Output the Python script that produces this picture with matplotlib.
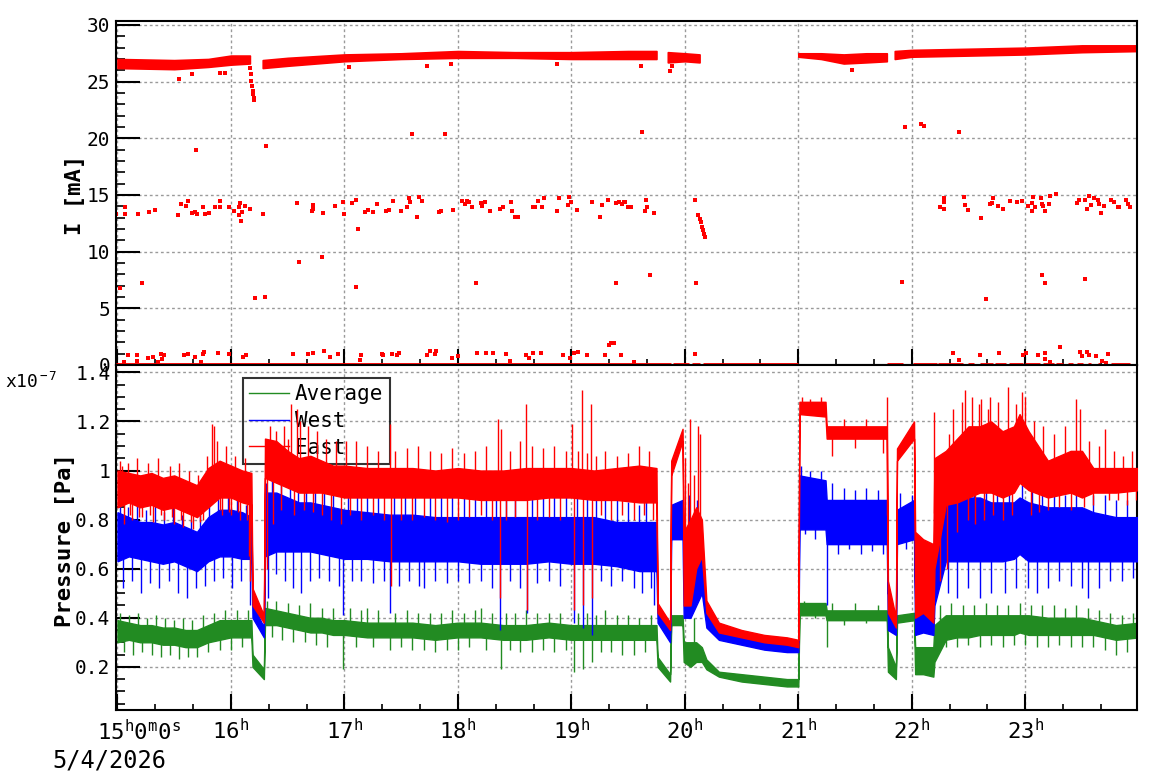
import numpy as np
import matplotlib
matplotlib.use("Agg")
import matplotlib.pyplot as plt
from matplotlib.ticker import MultipleLocator, FixedLocator

plt.rcParams['font.family'] = ['DejaVu Sans Mono']
plt.rcParams['mathtext.fontset'] = 'custom'
plt.rcParams['mathtext.rm'] = 'DejaVu Sans Mono'
plt.rcParams['mathtext.it'] = 'DejaVu Sans Mono'
plt.rcParams['mathtext.bf'] = 'DejaVu Sans Mono:bold'

# ---------------- beam current (mA), time in hours ----------------
# main stored-current band, NaN = no data
band_t = [15.0, 15.5, 15.8, 16.0, 16.167, np.nan,
          16.28, 16.5, 17.0, 17.5, 18.0, 18.5, 19.0, 19.5, 19.75, np.nan,
          19.85, 20.0, 20.13, np.nan,
          21.0, 21.2, 21.4, 21.6, 21.78, np.nan,
          21.85, 22.0, 22.5, 23.0, 23.5, 24.0]
band_lo = [26.2, 26.1, 26.3, 26.5, 26.6, np.nan,
           26.2, 26.4, 26.8, 27.0, 27.1, 27.1, 27.0, 27.0, 27.0, np.nan,
           26.7, 26.8, 26.7, np.nan,
           27.2, 27.0, 26.6, 26.7, 26.8, np.nan,
           27.0, 27.2, 27.3, 27.4, 27.6, 27.7]
band_hi = [27.0, 26.9, 27.0, 27.3, 27.3, np.nan,
           26.9, 27.1, 27.4, 27.5, 27.7, 27.6, 27.6, 27.7, 27.7, np.nan,
           27.6, 27.5, 27.4, np.nan,
           27.5, 27.5, 27.4, 27.5, 27.5, np.nan,
           27.7, 27.8, 27.9, 28.0, 28.2, 28.2]

# intervals where the current reads zero
zero_start = [14.99, 19.90, 20.06, 20.16, 21.78, 22.01, 22.23, 22.50, 22.60, 22.73, 22.86,
              23.00, 23.16, 23.27, 23.38, 23.46, 23.55, 23.64, 23.76]
zero_end = [19.88, 20.04, 20.13, 21.00, 21.92, 22.22, 22.45, 22.55, 22.72, 22.83, 22.98,
            23.13, 23.25, 23.33, 23.42, 23.51, 23.58, 23.66, 23.92]

# isolated readings
cur_t = [16.170, 16.175, 16.180, 16.185, 16.190, 16.195, 16.200, 16.205,
         20.12, 20.13, 20.14, 20.15, 20.16, 20.17, 20.18,
         14.99, 15.07, 15.07, 15.18, 15.28, 15.33, 15.53, 15.56, 15.60, 15.62, 15.66, 15.68, 15.70,
         15.75, 15.77, 15.81, 15.86, 15.90, 15.90, 15.98, 16.03, 16.07, 16.07, 16.08, 16.09, 16.10,
         16.12, 16.17, 16.28, 16.58, 16.72, 16.72, 16.71, 16.81, 16.92, 16.99, 17.00, 17.07, 17.10,
         17.12, 17.18, 17.21, 17.25, 17.29, 17.37, 17.39, 17.43, 17.50, 17.55, 17.57, 17.58, 17.64,
         17.66, 17.68, 17.83, 17.85, 17.96, 18.04, 18.06, 18.08, 18.10, 18.12, 18.20, 18.21, 18.24,
         18.28, 18.37, 18.40, 18.47, 18.48, 18.50, 18.53, 18.66, 18.68, 18.71, 18.74, 18.76, 18.87,
         18.89, 18.97, 18.98, 19.00, 19.05, 19.18, 19.25, 19.27, 19.32, 19.39, 19.42, 19.45, 19.50,
         19.46, 19.47, 19.51, 19.53, 19.66, 19.67, 19.65, 19.73, 20.09,
         22.25, 22.28, 22.28, 22.28, 22.46, 22.47, 22.50, 22.61, 22.69, 22.71, 22.72, 22.76, 22.80,
         22.87, 22.93, 22.97, 23.02, 23.06, 23.07, 23.09, 23.06, 23.14, 23.15, 23.16, 23.17, 23.21,
         23.22, 23.27, 23.46, 23.47, 23.53, 23.54, 23.56, 23.58, 23.61, 23.64, 23.65, 23.67, 23.69,
         23.76, 23.78, 23.82, 23.83, 23.89, 23.91, 23.92,
         15.54, 15.66, 15.69, 16.31, 17.60, 17.89, 17.73, 17.04, 17.94, 18.87, 15.22, 15.02, 16.21,
         16.30, 16.60, 16.80, 17.10, 18.16, 19.39, 15.90, 15.95, 19.61, 19.87, 19.89, 21.47, 19.62,
         21.94, 22.08, 22.11, 22.42, 19.69, 20.10, 21.91, 22.65, 23.15, 23.17, 23.53,
         15.09, 15.17, 15.27, 15.31, 15.38, 15.41, 15.59, 15.62, 15.68, 15.75, 15.76, 15.89, 15.98,
         16.11, 16.13, 16.55, 16.68, 16.72, 16.82, 16.87, 16.94, 17.15, 17.33, 17.34, 17.42, 17.46,
         17.48, 17.73, 17.75, 17.80, 17.81, 17.95, 18.00, 18.17, 18.25, 18.31, 18.42, 18.46, 18.60,
         18.63, 18.66, 18.73, 18.93, 18.99, 19.02, 19.06, 19.14, 19.30, 19.33, 19.35, 19.38, 19.44,
         15.06, 15.17, 15.36, 15.39, 15.74, 17.14, 19.55, 20.09, 22.36, 22.42, 22.60, 22.77, 22.98,
         23.01, 23.11, 23.17, 23.17, 23.22, 23.31, 23.48, 23.50, 23.54, 23.56, 23.62, 23.68, 23.71,
         23.73]
cur_v = [26.2, 25.7, 25.1, 24.6, 24.2, 23.9, 23.6, 23.4,
         13.2, 12.9, 12.6, 12.2, 11.9, 11.6, 11.3,
         13.3, 13.9, 13.3, 13.3, 13.5, 13.7, 13.2, 14.2, 14.0, 14.5, 13.4, 13.5, 13.3,
         13.9, 13.3, 13.4, 13.9, 14.5, 13.9, 13.9, 13.6, 13.9, 13.2, 14.3, 12.7, 13.5,
         14.0, 13.8, 13.3, 14.3, 14.1, 13.8, 13.6, 13.4, 14.0, 14.4, 13.3, 14.3, 14.6,
         12.0, 13.5, 13.7, 13.5, 14.2, 13.6, 13.7, 14.5, 13.6, 13.9, 14.7, 14.4, 13.1,
         14.8, 14.5, 13.5, 13.6, 13.7, 14.5, 14.2, 14.5, 14.4, 13.9, 14.3, 14.0, 14.4,
         13.6, 13.8, 13.9, 14.4, 13.6, 13.1, 13.1, 13.9, 13.9, 14.5, 13.9, 14.7, 13.6,
         14.7, 14.1, 14.8, 14.4, 13.7, 14.4, 13.1, 14.1, 14.6, 14.3, 14.4, 14.2, 13.9,
         14.4, 14.4, 13.9, 13.9, 14.6, 13.9, 13.6, 13.4, 14.6,
         13.9, 14.7, 14.4, 13.8, 14.8, 14.1, 13.7, 13.0, 14.2, 14.3, 14.7, 14.0, 13.8,
         14.5, 14.4, 14.5, 14.0, 14.3, 14.8, 13.9, 13.6, 14.7, 14.2, 14.0, 13.6, 14.2,
         14.9, 15.1, 14.3, 14.6, 14.6, 13.8, 14.9, 14.1, 14.7, 14.6, 14.2, 13.4, 14.0,
         14.6, 14.4, 13.9, 13.9, 14.6, 14.2, 13.9,
         25.2, 25.7, 19.0, 19.3, 20.4, 20.4, 26.4, 26.3, 26.6, 26.6, 7.2, 6.8, 5.9,
         6.0, 9.1, 9.5, 6.9, 7.2, 7.2, 25.8, 25.8, 26.4, 25.9, 26.4, 26.0, 20.6,
         21.0, 21.3, 21.1, 20.6, 7.9, 7.2, 7.3, 5.8, 7.9, 7.2, 7.6,
         0.85, 0.91, 0.59, 0.67, 1.00, 0.91, 0.91, 1.00, 0.73, 1.00, 1.17, 1.09, 1.00,
         0.67, 0.91, 1.00, 1.00, 1.09, 1.26, 0.67, 1.00, 0.91, 1.00, 0.85, 1.00, 0.91,
         1.09, 0.91, 1.26, 1.00, 1.26, 0.59, 0.76, 1.09, 1.09, 1.09, 1.00, 0.38, 0.91,
         0.59, 1.09, 1.09, 0.91, 0.59, 1.09, 1.17, 0.85, 0.91, 1.73, 1.91, 1.91, 0.85,
         0.23, 0.32, 0.23, 0.50, 0.23, 0.41, 0.23, 0.94, 1.09, 0.41, 0.91, 1.09, 0.85,
         1.09, 0.85, 1.09, 0.50, 0.23, 1.61, 1.17, 0.76, 1.17, 0.85, 0.76, 0.32, 0.15,
         0.94]

# ---------------- pressure (x1e-7 Pa) ----------------
p_t = [15.0, 15.1, 15.2, 15.3, 15.4, 15.5, 15.6, 15.7, 15.8, 15.9, 16.0, 16.1, 16.18,
       16.19, 16.29, 16.3, 16.4, 16.5, 16.6, 16.7, 16.8, 16.9, 17.0,
       17.2, 17.4, 17.6, 17.8, 18.0, 18.2, 18.4, 18.6, 18.8, 19.0, 19.2, 19.4, 19.6, 19.75,
       19.76, 19.87, 19.88, 19.98, 19.99, 20.05, 20.1, 20.15, 20.19, 20.3, 20.5, 20.7, 20.9, 21.0,
       21.01, 21.24, 21.25, 21.5, 21.78, 21.79, 21.86, 21.87, 22.02,
       22.03, 22.1, 22.19, 22.2, 22.3, 22.4, 22.5, 22.6, 22.7, 22.8, 22.9, 22.95, 23.03, 23.2,
       23.4, 23.5, 23.6, 23.8, 24.0]
east_lo = [0.85, 0.87, 0.85, 0.86, 0.84, 0.85, 0.83, 0.81, 0.85, 0.89, 0.89, 0.87, 0.86,
           0.45, 0.38, 0.97, 0.95, 0.93, 0.91, 0.91, 0.91, 0.90, 0.89,
           0.89, 0.89, 0.89, 0.89, 0.89, 0.88, 0.88, 0.88, 0.89, 0.89, 0.88, 0.88, 0.87, 0.87,
           0.42, 0.35, 0.98, 1.12, 0.45, 0.45, 0.60, 0.65, 0.42, 0.34, 0.32, 0.30, 0.29, 0.28,
           1.23, 1.22, 1.13, 1.13, 1.13, 0.42, 0.36, 1.04, 1.13,
           0.40, 0.42, 0.38, 0.60, 0.86, 0.87, 0.89, 0.91, 0.91, 0.89, 0.91, 0.95, 0.92, 0.89,
           0.91, 0.89, 0.91, 0.91, 0.92]
east_hi = [1.00, 0.99, 0.98, 0.99, 0.97, 0.98, 0.96, 0.94, 1.01, 1.04, 1.02, 1.00, 0.99,
           0.52, 0.41, 1.13, 1.12, 1.08, 1.05, 1.06, 1.04, 1.02, 1.02,
           1.01, 1.01, 1.01, 1.00, 1.01, 1.00, 1.00, 1.01, 1.01, 1.01, 1.00, 1.01, 1.02, 1.01,
           0.46, 0.38, 1.04, 1.17, 0.75, 0.80, 0.85, 0.80, 0.47, 0.38, 0.35, 0.33, 0.32, 0.31,
           1.28, 1.28, 1.18, 1.18, 1.18, 0.55, 0.40, 1.09, 1.20,
           0.75, 0.72, 0.70, 1.05, 1.08, 1.13, 1.18, 1.18, 1.20, 1.16, 1.18, 1.23, 1.16, 1.04,
           1.08, 1.08, 1.01, 1.01, 1.01]
west_lo = [0.63, 0.65, 0.64, 0.63, 0.62, 0.63, 0.61, 0.59, 0.63, 0.65, 0.65, 0.64, 0.64,
           0.40, 0.32, 0.65, 0.67, 0.67, 0.67, 0.67, 0.66, 0.65, 0.64,
           0.64, 0.63, 0.63, 0.63, 0.63, 0.62, 0.62, 0.62, 0.63, 0.62, 0.62, 0.61, 0.59, 0.59,
           0.38, 0.30, 0.72, 0.72, 0.40, 0.40, 0.45, 0.50, 0.36, 0.31, 0.29, 0.27, 0.26, 0.26,
           0.76, 0.76, 0.70, 0.70, 0.70, 0.35, 0.33, 0.70, 0.72,
           0.33, 0.34, 0.33, 0.45, 0.63, 0.63, 0.63, 0.63, 0.63, 0.63, 0.64, 0.66, 0.63, 0.63,
           0.63, 0.63, 0.63, 0.63, 0.63]
west_hi = [0.83, 0.81, 0.79, 0.79, 0.78, 0.79, 0.77, 0.75, 0.81, 0.84, 0.84, 0.83, 0.81,
           0.46, 0.36, 0.91, 0.91, 0.89, 0.87, 0.87, 0.86, 0.85, 0.84,
           0.83, 0.82, 0.82, 0.81, 0.81, 0.81, 0.81, 0.81, 0.81, 0.81, 0.81, 0.79, 0.79, 0.79,
           0.44, 0.34, 0.86, 0.88, 0.70, 0.75, 0.80, 0.65, 0.42, 0.36, 0.33, 0.31, 0.30, 0.30,
           0.98, 0.96, 0.88, 0.88, 0.88, 0.50, 0.38, 0.84, 0.88,
           0.48, 0.46, 0.46, 0.85, 0.87, 0.89, 0.89, 0.89, 0.87, 0.87, 0.87, 0.89, 0.87, 0.85,
           0.85, 0.85, 0.83, 0.81, 0.81]
avg_lo = [0.30, 0.31, 0.30, 0.30, 0.29, 0.29, 0.28, 0.28, 0.30, 0.31, 0.32, 0.32, 0.32,
          0.20, 0.15, 0.37, 0.37, 0.36, 0.35, 0.34, 0.34, 0.33, 0.33,
          0.32, 0.32, 0.32, 0.31, 0.32, 0.32, 0.31, 0.31, 0.32, 0.31, 0.31, 0.31, 0.31, 0.31,
          0.20, 0.14, 0.37, 0.37, 0.22, 0.20, 0.22, 0.22, 0.19, 0.16, 0.14, 0.13, 0.12, 0.12,
          0.41, 0.41, 0.39, 0.39, 0.39, 0.18, 0.15, 0.38, 0.39,
          0.17, 0.17, 0.16, 0.22, 0.31, 0.32, 0.32, 0.33, 0.33, 0.33, 0.33, 0.34, 0.33, 0.33,
          0.33, 0.33, 0.33, 0.31, 0.32]
avg_hi = [0.39, 0.38, 0.37, 0.37, 0.36, 0.36, 0.35, 0.35, 0.37, 0.39, 0.39, 0.39, 0.39,
          0.25, 0.19, 0.44, 0.43, 0.42, 0.41, 0.40, 0.40, 0.39, 0.39,
          0.38, 0.38, 0.38, 0.37, 0.38, 0.38, 0.37, 0.37, 0.38, 0.37, 0.37, 0.37, 0.37, 0.37,
          0.24, 0.17, 0.41, 0.41, 0.30, 0.30, 0.30, 0.28, 0.23, 0.18, 0.17, 0.16, 0.15, 0.15,
          0.46, 0.46, 0.43, 0.43, 0.43, 0.28, 0.20, 0.41, 0.42,
          0.28, 0.28, 0.28, 0.37, 0.41, 0.41, 0.41, 0.41, 0.41, 0.41, 0.41, 0.41, 0.41, 0.40,
          0.40, 0.40, 0.39, 0.37, 0.38]

# excursions outside the dense band (time, tip value)
east_sp_t = [15.02, 15.04, 15.06, 15.09, 15.11, 15.13, 15.17, 15.19, 15.22, 15.27, 15.29, 15.31,
             15.36, 15.38, 15.41, 15.46, 15.48, 15.50, 15.54, 15.56, 15.58, 15.63, 15.65, 15.67,
             15.71, 15.73, 15.75, 15.79, 15.83, 15.85, 15.88, 15.90, 15.92, 15.96, 15.98, 16.00,
             16.04, 16.06, 16.08, 16.12, 16.14, 16.16, 16.17,
             16.31, 16.32, 16.34, 16.37, 16.40, 16.44, 16.47, 16.50, 16.53, 16.56, 16.58, 16.61,
             16.64, 16.68, 16.72, 16.76, 16.80, 16.84, 16.88, 16.93, 16.97, 17.01, 17.05, 17.10,
             17.15, 17.20, 17.25, 17.30, 17.35, 17.40, 17.41, 17.45, 17.50, 17.55, 17.60, 17.65,
             17.70, 17.75, 17.80, 17.85, 17.90, 17.95, 18.00, 18.05, 18.10, 18.15, 18.20, 18.25,
             18.30, 18.35, 18.37, 18.38, 18.42, 18.46, 18.50, 18.55, 18.60, 18.61, 18.65, 18.70,
             18.75, 18.80, 18.85, 18.90, 18.95, 19.01, 19.02, 19.06, 19.09, 19.10, 19.14, 19.17,
             19.18, 19.22, 19.26, 19.30, 19.35, 19.40, 19.45, 19.50, 19.55, 19.60, 19.64, 19.68,
             19.72, 20.00, 20.03, 20.05, 20.08, 20.12, 20.13,
             21.03, 21.10, 21.20, 21.30, 21.40, 21.50, 21.60, 21.75, 21.785,
             22.20, 22.25, 22.31, 22.33, 22.36, 22.40, 22.44, 22.47, 22.50, 22.53, 22.56, 22.59,
             22.61, 22.64, 22.67, 22.69, 22.72, 22.76, 22.80, 22.85, 22.88, 22.92, 22.97, 23.00,
             23.05, 23.08, 23.12, 23.16, 23.20, 23.25, 23.30, 23.35, 23.40, 23.45, 23.48, 23.52,
             23.56, 23.60, 23.65, 23.70, 23.74, 23.78, 23.82, 23.86, 23.90, 23.94, 23.98]
east_sp_v = [1.04, 1.02, 0.78, 1.03, 0.82, 0.80, 1.05, 0.81, 0.81, 1.03, 0.82, 0.79,
             1.05, 0.82, 0.80, 1.02, 0.81, 0.78, 1.03, 0.80, 0.77, 1.00, 0.79, 0.76,
             0.98, 0.79, 0.80, 1.06, 1.19, 1.18, 1.12, 0.84, 0.82, 1.10, 0.83, 0.82,
             1.06, 0.83, 0.80, 1.05, 0.80, 0.65, 0.55,
             1.10, 0.60, 1.18, 0.78, 1.16, 0.84, 1.18, 1.13, 1.27, 0.82, 1.25, 1.20,
             0.84, 1.18, 0.83, 1.16, 0.82, 1.13, 0.80, 1.12, 0.78, 1.12, 0.82, 1.12,
             0.80, 1.10, 0.82, 1.08, 0.80, 1.19, 0.53, 1.08, 0.80, 1.09, 0.80, 1.10,
             0.81, 1.08, 0.80, 1.07, 0.79, 1.09, 0.80, 1.07, 0.81, 1.08, 0.82, 1.10,
             0.80, 1.21, 0.48, 1.17, 0.80, 1.08, 0.81, 1.12, 1.27, 0.43, 1.10, 0.80,
             1.09, 0.81, 1.10, 0.80, 1.08, 1.19, 0.43, 1.08, 1.33, 0.45, 1.07, 1.27,
             0.48, 1.06, 0.82, 1.08, 0.80, 1.06, 0.82, 1.07, 0.80, 1.10, 0.82, 1.08,
             0.80, 1.05, 0.95, 1.21, 0.98, 1.18, 1.15,
             1.30, 1.29, 1.30, 1.06, 1.21, 1.09, 1.21, 1.07, 1.30,
             1.24, 0.55, 0.60, 1.15, 1.25, 0.75, 1.28, 1.33, 0.80, 1.30, 0.78, 1.27,
             1.29, 0.80, 1.25, 1.30, 0.82, 1.28, 0.80, 1.34, 0.82, 1.27, 1.32, 1.30,
             0.82, 1.20, 0.83, 1.18, 0.84, 1.15, 0.85, 1.18, 0.84, 1.29, 1.25, 0.85,
             1.12, 0.86, 1.10, 1.17, 0.88, 1.08, 0.88, 1.06, 0.86, 1.08, 0.88]

west_sp_t = [15.02, 15.05, 15.09, 15.13, 15.17, 15.21, 15.25, 15.29, 15.33, 15.37, 15.41, 15.45,
             15.49, 15.53, 15.57, 15.61, 15.65, 15.69, 15.73, 15.77, 15.81, 15.85, 15.89, 15.93,
             15.97, 16.01, 16.05, 16.09, 16.13, 16.17,
             16.31, 16.33, 16.36, 16.40, 16.44, 16.48, 16.52, 16.55, 16.59, 16.62, 16.66, 16.70,
             16.74, 16.78, 16.82, 16.86, 16.90, 16.95, 16.99, 17.03, 17.07, 17.11, 17.15, 17.20,
             17.25, 17.30, 17.35, 17.40, 17.44, 17.48, 17.53, 17.57, 17.62, 17.66, 17.70, 17.75,
             17.80, 17.85, 17.90, 17.95, 18.00, 18.05, 18.10, 18.15, 18.20, 18.25, 18.30, 18.34,
             18.37, 18.42, 18.46, 18.50, 18.55, 18.61, 18.65, 18.70, 18.75, 18.80, 18.85, 18.90,
             18.95, 19.02, 19.05, 19.10, 19.14, 19.18, 19.22, 19.26, 19.30, 19.35, 19.40, 19.45,
             19.50, 19.55, 19.60, 19.62, 19.66, 19.70, 19.73, 20.04, 20.11,
             21.02, 21.06, 21.10, 21.15, 21.20, 21.25, 21.30, 21.35, 21.40, 21.45, 21.50, 21.55,
             21.60, 21.65, 21.70, 21.75, 21.90, 21.95, 22.00,
             22.25, 22.32, 22.36, 22.40, 22.45, 22.50, 22.55, 22.60, 22.65, 22.70, 22.75, 22.82,
             22.86, 22.92, 22.97, 23.02, 23.06, 23.10, 23.15, 23.20, 23.25, 23.30, 23.35, 23.40,
             23.45, 23.50, 23.55, 23.60, 23.65, 23.70, 23.75, 23.80, 23.85, 23.90, 23.95]
west_sp_v = [0.86, 0.52, 0.85, 0.55, 0.88, 0.50, 0.84, 0.54, 0.86, 0.52, 0.83, 0.55,
             0.86, 0.50, 0.82, 0.48, 0.80, 0.52, 0.82, 0.53, 0.90, 0.55, 0.93, 0.56,
             0.90, 0.52, 0.88, 0.55, 0.86, 0.45,
             0.95, 0.48, 0.98, 0.58, 0.96, 0.55, 0.97, 0.52, 0.95, 0.50, 0.96, 0.55,
             0.95, 0.56, 0.93, 0.55, 0.92, 0.53, 0.41, 0.92, 0.55, 0.90, 0.55, 0.92,
             0.54, 0.95, 0.55, 0.42, 0.90, 0.53, 0.92, 0.55, 0.90, 0.53, 0.52, 0.90,
             0.55, 0.91, 0.54, 0.90, 0.55, 0.92, 0.54, 0.91, 0.55, 0.90, 0.52, 0.92,
             0.35, 0.90, 0.55, 0.91, 0.52, 0.42, 0.90, 0.54, 0.92, 0.55, 0.90, 0.53,
             0.90, 0.38, 0.92, 0.36, 0.90, 0.33, 0.88, 0.55, 0.90, 0.53, 0.88, 0.55,
             0.87, 0.52, 0.86, 0.50, 0.88, 0.52, 0.45, 0.90, 0.88,
             1.02, 0.74, 1.00, 0.72, 1.00, 0.45, 0.95, 0.66, 0.93, 0.68, 0.92, 0.66,
             0.93, 0.67, 0.92, 0.66, 0.91, 0.68, 0.90,
             0.90, 0.50, 0.98, 0.48, 0.96, 0.52, 0.97, 0.48, 0.95, 0.50, 0.96, 0.50,
             0.93, 0.52, 0.94, 0.52, 0.92, 0.50, 0.92, 0.52, 0.92, 0.55, 0.90, 0.53,
             0.92, 0.52, 0.48, 0.90, 0.52, 0.90, 0.55, 0.88, 0.55, 0.88, 0.56]

avg_sp_t = [15.02, 15.06, 15.10, 15.14, 15.18, 15.22, 15.26, 15.30, 15.34, 15.38, 15.42, 15.46,
            15.50, 15.54, 15.58, 15.62, 15.66, 15.70, 15.75, 15.80, 15.85, 15.90, 15.95, 16.00,
            16.05, 16.10, 16.15,
            16.32, 16.36, 16.40, 16.45, 16.50, 16.55, 16.60, 16.65, 16.70, 16.75, 16.80, 16.85,
            16.90, 16.99, 17.05, 17.10, 17.15, 17.20, 17.25, 17.30, 17.40, 17.45, 17.50, 17.55,
            17.60, 17.65, 17.70, 17.75, 17.80, 17.85, 17.90, 17.95, 18.00, 18.05, 18.10, 18.15,
            18.20, 18.25, 18.30, 18.38, 18.42, 18.46, 18.50, 18.55, 18.60, 18.65, 18.70, 18.75,
            18.80, 18.85, 18.90, 18.95, 19.02, 19.06, 19.10, 19.14, 19.18, 19.22, 19.26, 19.30,
            19.35, 19.40, 19.45, 19.50, 19.55, 19.60, 19.65, 19.70, 20.08,
            21.05, 21.15, 21.25, 21.30, 21.40, 21.50, 21.60, 21.70,
            22.25, 22.30, 22.35, 22.40, 22.45, 22.50, 22.55, 22.60, 22.65, 22.70, 22.75, 22.80,
            22.85, 22.90, 22.95, 23.00, 23.05, 23.10, 23.15, 23.20, 23.25, 23.30, 23.35, 23.40,
            23.45, 23.50, 23.55, 23.60, 23.65, 23.70, 23.75, 23.80, 23.85, 23.90, 23.95]
avg_sp_v = [0.42, 0.26, 0.41, 0.25, 0.42, 0.26, 0.40, 0.25, 0.41, 0.24, 0.40, 0.25,
            0.39, 0.23, 0.40, 0.24, 0.39, 0.24, 0.41, 0.26, 0.42, 0.27, 0.43, 0.27,
            0.43, 0.28, 0.43,
            0.47, 0.32, 0.47, 0.31, 0.46, 0.30, 0.45, 0.30, 0.46, 0.29, 0.44, 0.28,
            0.44, 0.19, 0.44, 0.28, 0.43, 0.44, 0.28, 0.43, 0.27, 0.42, 0.28, 0.43,
            0.27, 0.42, 0.27, 0.42, 0.26, 0.42, 0.27, 0.43, 0.27, 0.42, 0.28, 0.43,
            0.44, 0.27, 0.42, 0.19, 0.42, 0.27, 0.42, 0.26, 0.43, 0.26, 0.42, 0.27,
            0.42, 0.26, 0.42, 0.27, 0.18, 0.42, 0.19, 0.42, 0.22, 0.41, 0.26, 0.43,
            0.26, 0.41, 0.25, 0.41, 0.25, 0.40, 0.26, 0.41, 0.40,
            0.47, 0.40, 0.28, 0.46, 0.37, 0.46, 0.38, 0.45,
            0.45, 0.28, 0.46, 0.28, 0.45, 0.29, 0.45, 0.28, 0.46, 0.29, 0.45, 0.28,
            0.45, 0.29, 0.46, 0.29, 0.45, 0.28, 0.45, 0.28, 0.45, 0.29, 0.44, 0.28,
            0.45, 0.28, 0.44, 0.28, 0.43, 0.27, 0.42, 0.25, 0.41, 0.26, 0.42]

hour_ticks = [16, 17, 18, 19, 20, 21, 22, 23]
hour_labels = [r'%d$^{\rm h}$' % h for h in hour_ticks]

RED = '#ff0000'
BLUE = '#0000ff'
GREEN = '#228b22'
W, H = 1158, 782


def px_axes(l, t, r, b):
    return [l / W, 1 - b / H, (r - l) / W, (b - t) / H]


def style_axes(ax):
    ax.set_xlim(14.987, 23.985)
    ax.grid(True, which='major', color='#9a9a9a', linestyle=(0, (2, 2)), linewidth=1)
    ax.set_axisbelow(True)
    for s in ax.spines.values():
        s.set_linewidth(1.5)
    ax.xaxis.set_major_locator(FixedLocator([15] + hour_ticks))
    ax.xaxis.set_minor_locator(MultipleLocator(1 / 3))
    ax.tick_params(axis='x', which='major', direction='in', length=11.5, width=1.5,
                   top=False, labelsize=16, pad=6)
    ax.tick_params(axis='x', which='minor', direction='in', length=4.5, width=1.2, top=False)
    ax.tick_params(axis='y', which='major', direction='in', length=17, width=1.5,
                   right=False, labelsize=14, pad=4)
    ax.tick_params(axis='y', which='minor', direction='in', length=6.5, width=1.2, right=False)


fig = plt.figure(figsize=(W / 100, H / 100), dpi=100)
ax1 = fig.add_axes(px_axes(116, 21, 1137, 365))
ax2 = fig.add_axes(px_axes(116, 365, 1137, 710))
style_axes(ax1)
style_axes(ax2)

# ---- top: current ----
bt = np.array(band_t)
blo = np.array(band_lo)
bhi = np.array(band_hi)
breaks = np.where(np.isnan(bt))[0]
start = 0
for stop in list(breaks) + [len(bt)]:
    ax1.fill_between(bt[start:stop], blo[start:stop], bhi[start:stop],
                     color=RED, lw=1.2, edgecolor=RED)
    start = stop + 1
ax1.hlines([0] * len(zero_start), zero_start, zero_end, color=RED, lw=3.5, clip_on=False, zorder=5)
ax1.plot(cur_t, cur_v, 's', color=RED, ms=2.8, mew=0)
ax1.set_ylim(0, 30.35)
ax1.yaxis.set_major_locator(MultipleLocator(5))
ax1.yaxis.set_minor_locator(MultipleLocator(1))
ax1.tick_params(axis='x', labelbottom=False)

# ---- bottom: pressure ----
series = [('Average', GREEN, avg_lo, avg_hi, avg_sp_t, avg_sp_v),
          ('West', BLUE, west_lo, west_hi, west_sp_t, west_sp_v),
          ('East', RED, east_lo, east_hi, east_sp_t, east_sp_v)]
for z, (name, col, lo, hi, st, sv) in enumerate(series):
    lo = np.array(lo)
    hi = np.array(hi)
    ax2.fill_between(p_t, lo, hi, color=col, lw=1, edgecolor=col, zorder=2 + z)
    base = np.interp(st, p_t, (lo + hi) / 2)
    ax2.vlines(st, base, sv, color=col, lw=1, zorder=2 + z)
    ax2.plot([], [], color=col, lw=1, label=name)

ax2.set_ylim(0.024, 1.43)
ax2.yaxis.set_major_locator(MultipleLocator(0.2))
ax2.yaxis.set_minor_locator(MultipleLocator(0.05))
ax2.set_yticks([0.2, 0.4, 0.6, 0.8, 1.0, 1.2, 1.4])
ax2.set_yticklabels(['0.2', '0.4', '0.6', '0.8', '1', '1.2', '1.4'])
ax2.set_xticklabels([''] + hour_labels)

leg = ax2.legend(loc='upper left', bbox_to_anchor=(127 / 1021, 1 - 13 / 345),
                 borderaxespad=0, fontsize=15, frameon=True, fancybox=False,
                 edgecolor='black', handlelength=1.9, handletextpad=0.3,
                 labelspacing=0.32, borderpad=0.3)
leg.get_frame().set_linewidth(1.5)
leg.get_frame().set_facecolor('none')
leg.set_zorder(1)

fig.text(139 / W, 1 - 740 / H, r'15$^{\rm h}$0$^{\rm m}$0$^{\rm s}$', ha='center',
         va='baseline', fontsize=16)
fig.text(109 / W, 1 - 768 / H, '5/4/2026', ha='center', va='baseline', fontsize=17)
fig.text(5 / W, 1 - 388 / H, r'x10$^{\rm -7}$', ha='left', va='baseline', fontsize=13)
fig.text(75 / W, 1 - 195 / H, 'I [mA]', rotation=90, ha='center', va='center',
         fontsize=16, fontweight='bold')
fig.text(65 / W, 1 - 540 / H, 'Pressure [Pa]', rotation=90, ha='center', va='center',
         fontsize=16, fontweight='bold')

fig.savefig('out.png', dpi=100)
